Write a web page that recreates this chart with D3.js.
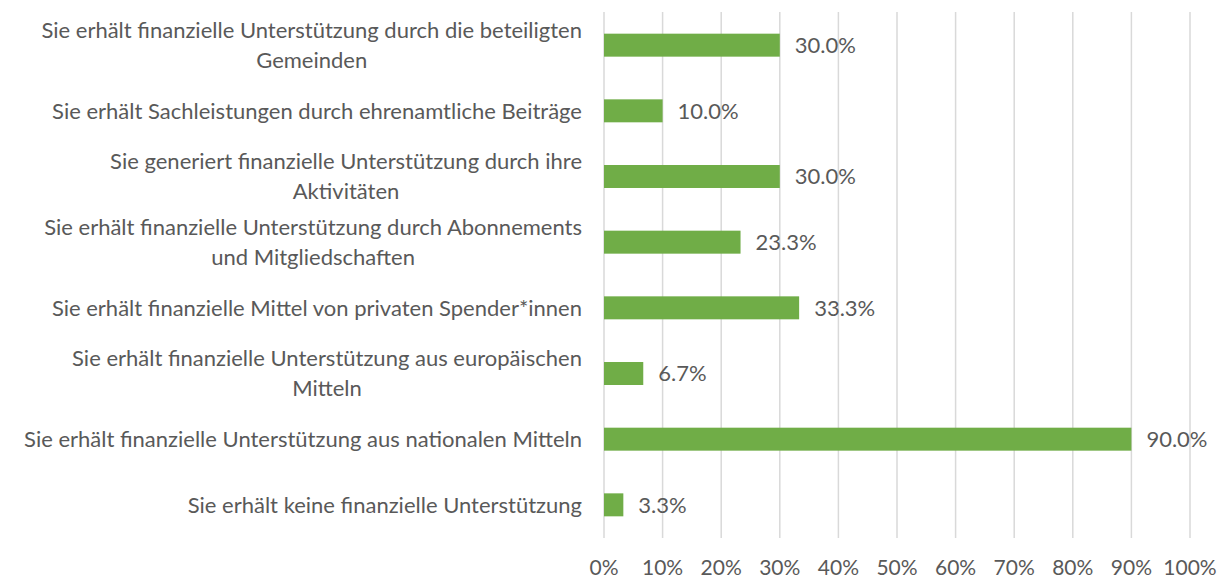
<!DOCTYPE html>
<html>
<head>
<meta charset="utf-8">
<script src="https://cdn.jsdelivr.net/npm/d3@7"></script>
<style>
  body { margin: 0; background: #fff; }
  text { font-family: Lato, "Open Sans", sans-serif; fill: #595959; }
</style>
</head>
<body>
<script>
// data
var categories = [
  "Sie erhält finanzielle Unterstützung durch die beteiligten|Gemeinden",
  "Sie erhält Sachleistungen durch ehrenamtliche Beiträge",
  "Sie generiert finanzielle Unterstützung durch ihre|Aktivitäten",
  "Sie erhält finanzielle Unterstützung durch Abonnements|und Mitgliedschaften",
  "Sie erhält finanzielle Mittel von privaten Spender*innen",
  "Sie erhält finanzielle Unterstützung aus europäischen|Mitteln",
  "Sie erhält finanzielle Unterstützung aus nationalen Mitteln",
  "Sie erhält keine finanzielle Unterstützung"
];
var values = [30.0, 10.0, 30.0, 23.3, 33.3, 6.7, 90.0, 3.3];
var ticks = [0, 10, 20, 30, 40, 50, 60, 70, 80, 90, 100];

var chart = {
  "width" : 1223,
  "height" : 580,
  "left" : 604,
  "right" : 1190,
  "top" : 12,
  "bottom" : 538,
  "font" : 22
};

var svg = d3.select("body")
            .append("svg")
            .attr("width", chart.width)
            .attr("height", chart.height);

var x = d3.scaleLinear()
          .domain([0, 100])
          .range([chart.left, chart.right]);

var y = d3.scaleBand()
          .domain(categories)
          .range([chart.top, chart.bottom])
          .paddingInner(0.65)
          .paddingOuter(0.33);

// gridlines
svg.append("g")
   .selectAll("line")
   .data(ticks)
   .join("line")
   .attr("x1", d => x(d))
   .attr("x2", d => x(d))
   .attr("y1", chart.top)
   .attr("y2", chart.bottom)
   .attr("stroke", "#d9d9d9")
   .attr("stroke-width", 1.5);

// tick labels
svg.append("g")
   .selectAll("text")
   .data(ticks)
   .join("text")
   .attr("x", d => x(d))
   .attr("y", 575)
   .attr("text-anchor", "middle")
   .attr("font-size", 21)
   .text(d => d + "%");

// bars
svg.append("g")
   .selectAll("rect")
   .data(values)
   .join("rect")
   .attr("x", x(0))
   .attr("y", (d, i) => y(categories[i]))
   .attr("width", d => x(d) - x(0))
   .attr("height", y.bandwidth())
   .attr("fill", "#70ad47");

// value labels
svg.append("g")
   .selectAll("text")
   .data(values)
   .join("text")
   .attr("x", d => x(d) + 15)
   .attr("y", (d, i) => y(categories[i]) + y.bandwidth() / 2)
   .attr("dy", "0.35em")
   .attr("font-size", chart.font)
   .text(d => d.toFixed(1) + "%");

// category labels: block right-aligned, lines centered within block
var cat = svg.append("g")
             .selectAll("text")
             .data(categories)
             .join("text")
             .attr("text-anchor", "middle")
             .attr("font-size", chart.font);

cat.each(function(d) {
  var lines = d.split("|");
  var cy = y(d) + y.bandwidth() / 2;
  var t = d3.select(this);
  var spans = lines.map(function(line, k) {
    return t.append("tspan")
            .attr("y", cy + (k - (lines.length - 1) / 2) * 29.5)
            .attr("dy", "0.35em")
            .text(line);
  });
  var w = d3.max(spans, s => s.node().getComputedTextLength());
  spans.forEach(s => s.attr("x", 582 - w / 2));
});
</script>
</body>
</html>
